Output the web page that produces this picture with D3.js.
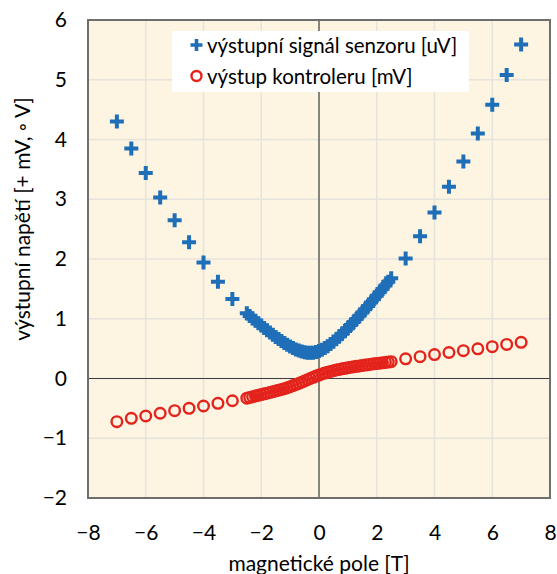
<!DOCTYPE html>
<html><head><meta charset="utf-8">
<script src="https://cdn.jsdelivr.net/npm/d3@7/dist/d3.min.js"></script>
<style>html,body{margin:0;padding:0;background:#fff;}svg{display:block;}</style>
</head><body>
<svg id="c" width="557" height="574"></svg>
<script>
// ---- data ----
const xTicks = [-8, -6, -4, -2, 0, 2, 4, 6, 8];
const yTicks = [-2, -1, 0, 1, 2, 3, 4, 5, 6];
const seriesNames = ["výstupní signál senzoru [uV]", "výstup kontroleru [mV]"];
const xTitle = "magnetické pole [T]";
const yTitle = "výstupní napětí [+ mV, ◦ V]";

// sensor output (blue crosses)
const sensorX = [-7,-6.5,-6,-5.5,-5,-4.5,-4,-3.5,-3,
  -2.5,-2.4,-2.3,-2.2,-2.1,-2.0,-1.9,-1.8,-1.7,-1.6,-1.5,-1.4,-1.3,-1.2,-1.1,-1.0,-0.9,-0.8,-0.7,-0.6,-0.5,-0.4,-0.3,-0.2,-0.1,
  0.0,0.1,0.2,0.3,0.4,0.5,0.6,0.7,0.8,0.9,1.0,1.1,1.2,1.3,1.4,1.5,1.6,1.7,1.8,1.9,2.0,2.1,2.2,2.3,2.4,2.5,
  3,3.5,4,4.5,5,5.5,6,6.5,7];
const sensorY = [4.30,3.85,3.44,3.03,2.65,2.28,1.94,1.62,1.33,
  1.090,1.048,1.006,0.966,0.925,0.885,0.846,0.807,0.769,0.731,0.695,0.660,0.626,0.594,0.563,0.535,0.509,0.487,0.467,0.451,0.440,0.433,0.430,0.433,0.444,
  0.460,0.482,0.510,0.541,0.577,0.616,0.658,0.701,0.747,0.795,0.843,0.894,0.945,0.997,1.051,1.104,1.160,1.215,1.270,1.328,1.384,1.443,1.500,1.558,1.619,1.677,
  2.01,2.38,2.78,3.21,3.63,4.10,4.58,5.08,5.59];

// controller output (red circles)
const ctrlX = sensorX;
const ctrlY = [-0.723,-0.666,-0.628,-0.582,-0.539,-0.499,-0.460,-0.415,-0.372,
  -0.329,-0.317,-0.305,-0.293,-0.281,-0.269,-0.257,-0.245,-0.233,-0.221,-0.208,-0.196,-0.183,-0.170,-0.154,-0.138,-0.118,-0.100,-0.082,-0.062,-0.042,-0.021,0.000,0.020,0.040,
  0.058,0.075,0.091,0.106,0.119,0.131,0.142,0.152,0.162,0.171,0.180,0.188,0.196,0.204,0.211,0.218,0.225,0.232,0.239,0.245,0.251,0.257,0.263,0.269,0.275,0.281,
  0.330,0.365,0.400,0.435,0.465,0.497,0.532,0.570,0.606];

// ---- drawing ----
const FONT = "Lato, 'Open Sans', sans-serif";
const svg = d3.select("#c");
const L = 88, R = 550, T = 20, B = 498;
const x = d3.scaleLinear().domain([-8, 8]).range([L, R]);
const y = d3.scaleLinear().domain([-2, 6]).range([B, T]);

svg.append("rect").attr("x", L).attr("y", T).attr("width", R - L).attr("height", B - T).attr("fill", "#fdf5e1");

// grid
const yGrid = d3.range(-2, 7, 1);
svg.append("g").selectAll("line").data(yGrid).join("line")
  .attr("x1", L).attr("x2", R).attr("y1", d => y(d)).attr("y2", d => y(d))
  .attr("stroke", "#e6e3dd").attr("stroke-width", 1.5);
svg.append("g").selectAll("line").data(xTicks).join("line")
  .attr("y1", T).attr("y2", B).attr("x1", d => x(d)).attr("x2", d => x(d))
  .attr("stroke", "#e6e3dd").attr("stroke-width", 1.5);

// zero axes
svg.append("line").attr("x1", L).attr("x2", R).attr("y1", y(0)).attr("y2", y(0)).attr("stroke", "#404040").attr("stroke-width", 1.2);
svg.append("line").attr("y1", T).attr("y2", B).attr("x1", x(0)).attr("x2", x(0)).attr("stroke", "#404040").attr("stroke-width", 1.2);

// border
svg.append("rect").attr("x", L).attr("y", T).attr("width", R - L).attr("height", B - T)
  .attr("fill", "none").attr("stroke", "#6e6e6e").attr("stroke-width", 2);

// axes labels via d3 axes
const fmt = d => (d < 0 ? "\u2212" + Math.abs(d) : String(d));
const gx = svg.append("g").attr("transform", `translate(0,${B})`)
  .call(d3.axisBottom(x).tickValues(xTicks).tickFormat(fmt).tickSize(0).tickPadding(27));
const gy = svg.append("g").attr("transform", `translate(${L},0)`)
  .call(d3.axisLeft(y).tickValues(yTicks).tickFormat(fmt).tickSize(0).tickPadding(21));
[gx, gy].forEach(g => {
  g.select(".domain").remove();
  g.selectAll("text").attr("font-family", FONT).attr("font-size", 21).attr("fill", "#000");
});

svg.append("text").attr("x", x(0)).attr("y", 571).attr("text-anchor", "middle")
  .attr("font-family", FONT).attr("font-size", 21).text(xTitle);
svg.append("text").attr("transform", `translate(30,${(T + B) / 2 - 40}) rotate(-90)`)
  .attr("text-anchor", "middle").attr("font-family", FONT).attr("font-size", 21).text(yTitle);

// markers
const sensor = sensorX.map((v, i) => [v, sensorY[i]]);
const ctrl = ctrlX.map((v, i) => [v, ctrlY[i]]);
const crossPath = "M-7,-2H-2V-7H2V-2H7V2H2V7H-2V2H-7Z";
const blue = "#1f6fb8", red = "#e3231c";

svg.append("g").selectAll("circle").data(ctrl).join("circle")
  .attr("cx", d => x(d[0])).attr("cy", d => y(d[1])).attr("r", 5.3)
  .attr("fill", "none").attr("stroke", red).attr("stroke-width", 2.4);
svg.append("g").selectAll("path").data(sensor).join("path")
  .attr("transform", d => `translate(${x(d[0])},${y(d[1])})`).attr("d", crossPath).attr("fill", blue);

// legend
const lg = svg.append("g");
lg.append("rect").attr("x", 172).attr("y", 31).attr("width", 297).attr("height", 61).attr("fill", "#fff");
lg.append("path").attr("transform", "translate(196.5,45)").attr("d", "M-6,-1.8H-1.8V-6H1.8V-1.8H6V1.8H1.8V6H-1.8V1.8H-6Z").attr("fill", blue);
lg.append("circle").attr("cx", 196.5).attr("cy", 76).attr("r", 5).attr("fill", "none").attr("stroke", red).attr("stroke-width", 2.4);
lg.selectAll("text").data(seriesNames).join("text")
  .attr("x", 207).attr("y", (d, i) => 52.5 + i * 31)
  .attr("font-family", FONT).attr("font-size", 20.5).text(d => d);
</script>
</body></html>
